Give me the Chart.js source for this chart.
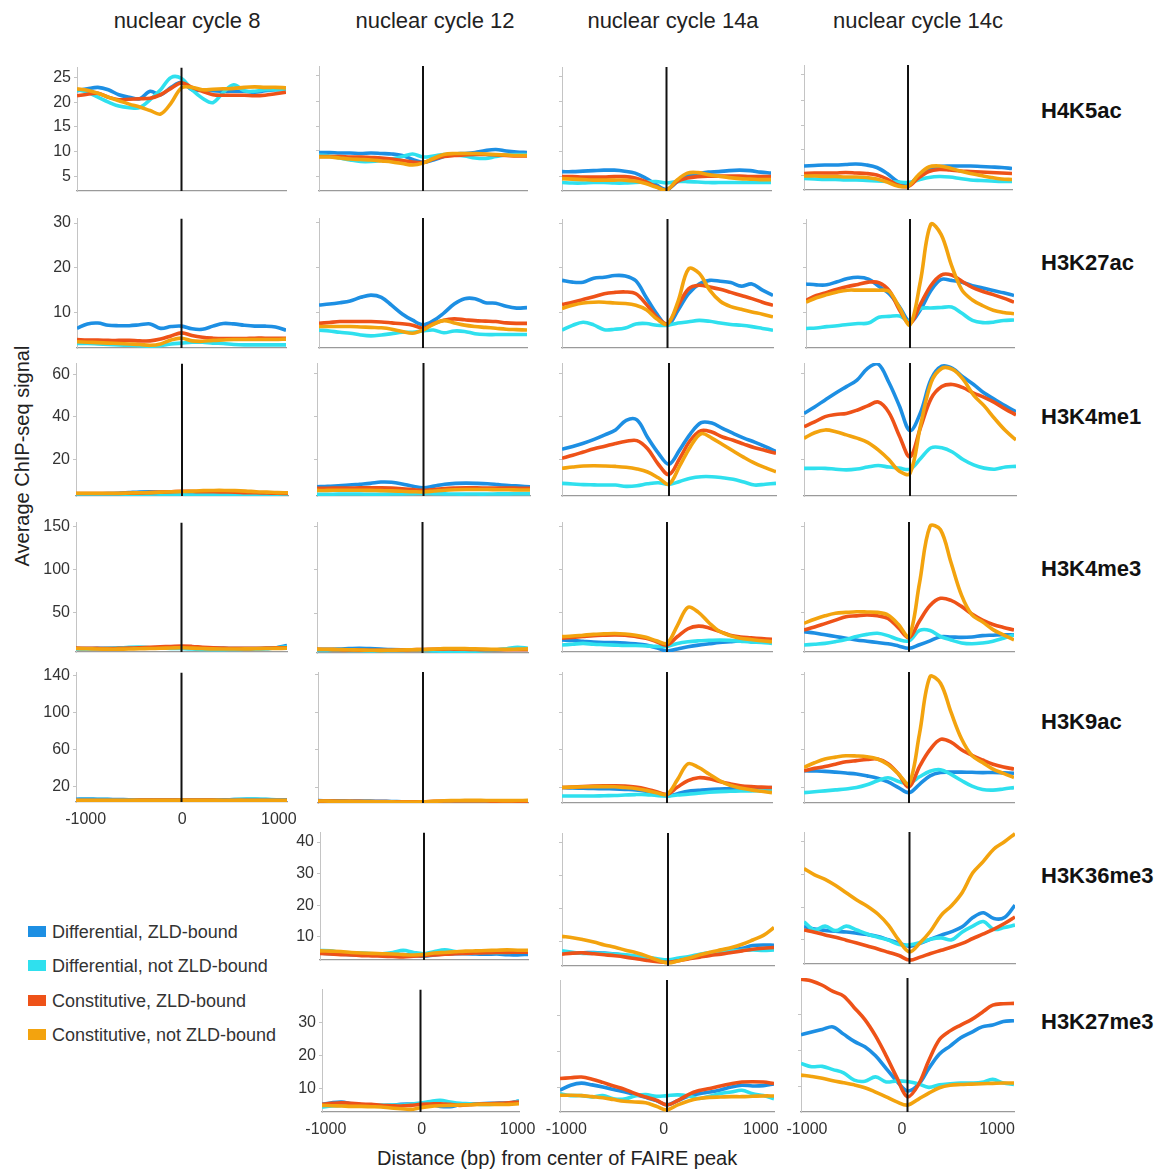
<!DOCTYPE html>
<html>
<head>
<meta charset="utf-8">
<title>ChIP-seq signal around FAIRE peaks</title>
<script src="https://cdn.jsdelivr.net/npm/chart.js@4.4.1/dist/chart.umd.min.js"></script>
<style>
  body { margin: 0; background: #fff; font-family: 'Liberation Sans', Arial, sans-serif; }
  #page { position: relative; width: 1162px; height: 1170px; overflow: hidden; background: #fff; }
  canvas.panel { position: absolute; }
  .stage { position: absolute; top: 9px; font-size: 22px; line-height: 24px; color: #222; transform: translateX(-50%); white-space: nowrap; }
  .mark { position: absolute; left: 1041px; font-size: 22px; line-height: 24px; font-weight: bold; color: #111; transform: translateY(-50%); white-space: nowrap; }
  .ytitle { position: absolute; left: 22px; top: 456px; font-size: 20px; color: #222; white-space: nowrap; transform: translate(-50%, -50%) rotate(-90deg); }
  .xtitle { position: absolute; left: 377px; top: 1146px; font-size: 20px; line-height: 24px; color: #222; white-space: nowrap; }
  .legend-item { position: absolute; left: 28px; font-size: 18px; line-height: 20px; color: #333; white-space: nowrap; transform: translateY(-50%); }
  .legend-item span { display: inline-block; width: 18px; height: 11px; margin-right: 6px; vertical-align: 1px; }
</style>
</head>
<body>
<div id="page"></div>
<script>
// ================= data =================
// x positions (bp from FAIRE peak center)
const xs = [-1000, -900, -800, -700, -600, -500, -400, -300, -200, -100, 0, 100, 200, 300, 400, 500, 600, 700, 800, 900, 1000];

const seriesNames = ['Differential, ZLD-bound', 'Differential, not ZLD-bound', 'Constitutive, ZLD-bound', 'Constitutive, not ZLD-bound'];
const stages = ['nuclear cycle 8', 'nuclear cycle 12', 'nuclear cycle 14a', 'nuclear cycle 14c'];
const marks = ['H4K5ac', 'H3K27ac', 'H3K4me1', 'H3K4me3', 'H3K9ac', 'H3K36me3', 'H3K27me3'];

// y axis limits and ticks, one entry per mark (row)
const yMinByRow = [2, 2, 3, 4, 3, 2.6, 3];
const yMaxByRow = [27, 31, 65, 155, 143, 43, 40];
const yTickValues = [[5, 10, 15, 20, 25], [10, 20, 30], [20, 40, 60], [50, 100, 150], [20, 60, 100, 140], [10, 20, 30, 40], [10, 20, 30]];
const xTickValues = [-1000, 0, 1000];
// the labelled distance axis is a little wider than the plotted window in the original
const xLabelMinByCol = [-1100, -1040, -1065, -1063];
const xLabelMaxByCol = [1085, 1015, 1135, 1179];

// each panel: [diff ZLD, diff not ZLD, const ZLD, const not ZLD]
const h4k5ac_nc8 = [
  [22.3, 22.7, 23.0, 22.5, 21.5, 21.0, 20.7, 22.2, 21.5, 23.0, 24.0, 22.5, 22.4, 22.3, 22.2, 22.2, 22.2, 22.0, 22.3, 22.5, 22.6],
  [22.5, 22.0, 21.0, 20.0, 19.2, 18.9, 18.9, 20.5, 22.5, 25.0, 24.8, 22.5, 20.8, 19.9, 22.0, 23.5, 22.3, 22.2, 22.5, 22.5, 22.6],
  [21.3, 21.6, 21.8, 21.0, 20.5, 20.6, 20.7, 20.8, 21.5, 22.8, 23.9, 23.0, 22.2, 21.5, 21.4, 21.4, 21.4, 21.3, 21.4, 21.7, 22.0],
  [22.7, 22.4, 21.8, 21.0, 20.3, 19.6, 19.0, 18.3, 17.6, 19.8, 22.9, 23.0, 22.5, 22.6, 22.7, 22.8, 23.0, 23.1, 23.0, 23.0, 22.9]
];
const h4k5ac_nc12 = [
  [9.7, 9.7, 9.6, 9.6, 9.5, 9.6, 9.5, 9.4, 9.1, 8.3, 7.7, 8.2, 8.9, 9.4, 9.5, 9.7, 10.1, 10.3, 10.0, 9.8, 9.7],
  [9.2, 9.0, 8.6, 8.2, 7.9, 7.9, 8.1, 8.4, 8.9, 9.4, 8.8, 9.0, 9.3, 9.2, 9.0, 8.6, 8.5, 8.9, 9.2, 9.3, 9.3],
  [8.9, 8.9, 8.9, 8.8, 8.8, 8.7, 8.6, 8.4, 8.1, 7.8, 7.7, 8.4, 8.9, 9.1, 9.2, 9.3, 9.3, 9.2, 9.1, 9.0, 9.0],
  [8.8, 8.8, 8.6, 8.4, 8.3, 8.2, 8.0, 7.8, 7.5, 7.2, 7.6, 8.5, 9.3, 9.5, 9.5, 9.5, 9.4, 9.3, 9.2, 9.1, 9.1]
];
const h4k5ac_nc14a = [
  [5.9, 5.9, 6.0, 6.1, 6.2, 6.2, 6.0, 5.6, 4.6, 3.3, 2.3, 3.8, 5.0, 5.5, 5.8, 5.9, 6.1, 6.2, 6.1, 5.8, 5.6],
  [3.7, 3.6, 3.6, 3.7, 3.7, 3.6, 3.6, 3.7, 3.8, 3.9, 3.6, 3.9, 3.9, 3.8, 3.7, 3.7, 3.7, 3.7, 3.7, 3.7, 3.7],
  [4.9, 4.9, 4.8, 4.8, 4.8, 4.9, 4.9, 4.6, 3.9, 2.9, 2.2, 3.9, 4.6, 4.9, 5.0, 5.0, 5.0, 5.0, 4.9, 4.9, 4.9],
  [4.5, 4.4, 4.3, 4.2, 4.2, 4.2, 4.2, 4.0, 3.5, 2.8, 2.2, 4.2, 5.6, 5.7, 5.3, 5.0, 4.7, 4.5, 4.4, 4.3, 4.3]
];
const h4k5ac_nc14c = [
  [6.8, 6.9, 7.0, 7.0, 7.1, 7.2, 7.0, 6.5, 5.3, 3.7, 3.0, 4.8, 6.2, 6.7, 6.8, 6.8, 6.8, 6.7, 6.6, 6.5, 6.3],
  [4.3, 4.2, 4.1, 4.1, 4.0, 4.0, 3.9, 3.8, 3.7, 3.6, 3.5, 4.0, 4.5, 4.7, 4.6, 4.3, 4.0, 3.9, 3.8, 3.7, 3.7],
  [5.3, 5.4, 5.4, 5.4, 5.5, 5.4, 5.3, 5.0, 4.2, 3.0, 2.7, 4.4, 5.7, 6.1, 6.0, 5.8, 5.7, 5.6, 5.5, 5.4, 5.3],
  [4.8, 4.8, 4.7, 4.7, 4.6, 4.6, 4.5, 4.2, 3.6, 2.8, 2.8, 5.0, 6.6, 6.8, 6.4, 5.8, 5.3, 4.9, 4.5, 4.2, 4.1]
];
const h3k27ac_nc8 = [
  [6.4, 7.4, 7.6, 7.1, 7.0, 7.0, 7.2, 7.4, 6.4, 6.8, 6.9, 6.3, 6.2, 6.9, 7.5, 7.4, 7.1, 6.9, 6.9, 6.7, 6.0],
  [3.0, 3.0, 2.9, 2.8, 2.7, 2.6, 2.5, 2.4, 2.5, 2.9, 3.1, 3.3, 3.3, 3.1, 3.0, 2.8, 2.7, 2.7, 2.7, 2.7, 2.7],
  [3.9, 3.8, 3.8, 3.7, 3.7, 3.7, 3.6, 3.6, 4.0, 4.7, 5.4, 4.8, 4.4, 4.2, 4.1, 4.1, 4.1, 4.2, 4.2, 4.2, 4.2],
  [3.4, 3.3, 3.2, 3.1, 3.0, 2.9, 2.8, 2.6, 2.9, 3.8, 4.2, 3.6, 3.5, 3.7, 3.8, 3.9, 3.9, 3.9, 3.9, 3.9, 4.0]
];
const h3k27ac_nc12 = [
  [11.6, 11.8, 12.1, 12.5, 13.3, 13.8, 13.3, 11.5, 9.6, 8.2, 7.2, 8.1, 9.8, 11.8, 13.0, 13.0, 12.1, 12.0, 11.3, 10.9, 11.0],
  [6.0, 5.8, 5.5, 5.3, 4.9, 4.7, 4.9, 5.2, 5.5, 5.5, 5.8, 6.0, 5.4, 5.8, 5.7, 5.2, 5.0, 5.0, 5.0, 5.0, 5.0],
  [7.5, 7.7, 7.9, 7.9, 7.9, 7.9, 7.8, 7.6, 7.4, 7.1, 6.4, 7.4, 8.2, 8.5, 8.3, 8.1, 8.0, 7.9, 7.6, 7.5, 7.5],
  [6.8, 6.8, 6.8, 6.8, 6.7, 6.6, 6.5, 6.2, 5.7, 5.3, 6.0, 7.3, 8.1, 7.6, 7.1, 6.8, 6.6, 6.4, 6.2, 6.1, 6.0]
];
const h3k27ac_nc14a = [
  [17.2, 16.8, 16.8, 17.7, 17.9, 18.3, 18.2, 17.1, 13.3, 9.6, 7.1, 10.5, 14.2, 16.4, 17.2, 17.0, 16.7, 15.9, 16.4, 15.0, 13.8],
  [6.0, 7.1, 7.8, 7.2, 6.1, 6.2, 6.5, 7.4, 7.5, 7.1, 7.1, 7.6, 7.9, 8.2, 8.0, 7.6, 7.3, 7.1, 6.8, 6.4, 6.0],
  [11.8, 12.3, 12.9, 13.5, 14.2, 14.5, 14.6, 14.2, 11.8, 8.9, 7.5, 11.5, 15.3, 16.1, 15.7, 15.2, 14.5, 13.8, 13.1, 12.3, 11.6],
  [10.9, 11.6, 12.1, 12.3, 12.3, 12.1, 12.0, 11.6, 10.6, 8.5, 7.4, 12.5, 19.8, 18.8, 15.0, 12.5, 11.3, 10.7, 10.1, 9.6, 9.0]
];
const h3k27ac_nc14c = [
  [16.4, 16.2, 16.2, 16.9, 17.6, 17.9, 17.5, 15.9, 14.2, 11.2, 7.9, 10.6, 14.9, 17.4, 17.2, 16.8, 16.0, 15.5, 14.9, 14.4, 13.8],
  [6.4, 6.5, 6.8, 7.0, 7.3, 7.5, 7.6, 8.9, 9.1, 9.2, 8.0, 10.8, 11.0, 11.1, 11.2, 9.8, 8.2, 7.7, 7.8, 8.2, 8.3],
  [12.7, 13.8, 14.5, 15.2, 15.8, 16.3, 16.8, 16.7, 14.9, 10.5, 7.5, 11.8, 16.0, 18.4, 18.4, 17.0, 15.6, 14.7, 14.0, 13.2, 12.3],
  [12.3, 13.3, 14.0, 14.6, 15.0, 15.0, 15.0, 15.0, 14.7, 11.0, 7.2, 17.0, 29.8, 27.5, 20.5, 15.0, 12.8, 11.5, 10.5, 10.0, 9.7]
];
const h3k4me1_nc8 = [
  [4.0, 4.0, 4.0, 4.1, 4.3, 4.6, 4.9, 5.0, 4.8, 4.6, 4.4, 4.1, 4.0, 4.0, 4.1, 4.2, 4.2, 4.1, 4.0, 4.0, 4.0],
  [3.6, 3.6, 3.6, 3.7, 3.7, 3.8, 3.8, 3.9, 3.9, 3.8, 3.7, 3.7, 3.6, 3.6, 3.6, 3.7, 3.7, 3.7, 3.7, 3.6, 3.6],
  [4.2, 4.2, 4.2, 4.2, 4.2, 4.3, 4.4, 4.6, 4.8, 5.0, 5.2, 5.1, 5.0, 5.0, 4.9, 4.8, 4.6, 4.5, 4.4, 4.3, 4.2],
  [4.3, 4.3, 4.3, 4.3, 4.3, 4.4, 4.5, 4.6, 4.8, 5.0, 5.1, 5.3, 5.5, 5.6, 5.6, 5.5, 5.3, 5.0, 4.8, 4.6, 4.5]
];
const h3k4me1_nc12 = [
  [7.3, 7.5, 7.8, 8.1, 8.5, 8.9, 9.5, 9.4, 8.6, 7.5, 6.8, 7.6, 8.5, 8.9, 9.0, 8.9, 8.7, 8.3, 7.9, 7.6, 7.3],
  [3.8, 3.8, 3.9, 3.9, 3.9, 3.8, 3.8, 3.9, 4.0, 4.1, 4.2, 4.1, 4.0, 3.9, 3.9, 3.9, 3.9, 4.0, 4.0, 4.1, 4.1],
  [6.6, 6.6, 6.7, 6.7, 6.8, 6.8, 6.8, 6.7, 6.4, 6.0, 5.6, 6.0, 6.5, 6.7, 6.8, 6.8, 6.7, 6.7, 6.7, 6.6, 6.6],
  [5.6, 5.6, 5.7, 5.7, 5.7, 5.6, 5.5, 5.4, 5.2, 5.0, 4.9, 5.3, 5.7, 5.9, 6.0, 6.0, 6.0, 5.9, 5.9, 5.8, 5.8]
];
const h3k4me1_nc14a = [
  [24.8, 26.1, 27.6, 29.4, 31.5, 33.8, 38.3, 38.5, 30.3, 23.0, 17.8, 24.5, 32.0, 37.2, 37.0, 34.5, 32.2, 30.0, 28.1, 26.0, 23.7],
  [8.9, 8.6, 8.3, 8.2, 8.1, 8.1, 7.5, 7.8, 8.7, 9.2, 8.4, 9.8, 11.3, 12.0, 12.0, 11.5, 10.8, 9.5, 8.1, 8.5, 8.9],
  [20.6, 22.0, 23.5, 25.0, 26.2, 27.5, 28.5, 28.8, 25.0, 17.8, 13.0, 20.5, 29.0, 33.5, 32.8, 30.5, 29.0, 27.2, 25.5, 24.2, 22.9],
  [15.9, 16.5, 17.0, 17.1, 17.0, 16.8, 16.4, 15.6, 14.2, 11.5, 8.5, 17.0, 26.0, 32.0, 30.0, 27.0, 24.0, 21.0, 18.3, 16.2, 14.3]
];
const h3k4me1_nc14c = [
  [41.5, 44.5, 47.8, 51.0, 54.0, 57.0, 62.5, 64.5, 56.0, 45.0, 33.5, 42.0, 57.5, 63.5, 62.5, 58.5, 55.0, 51.0, 48.0, 45.0, 42.3],
  [15.9, 15.9, 15.9, 15.5, 15.2, 15.6, 16.5, 17.2, 16.5, 16.0, 15.5, 20.5, 25.5, 25.5, 23.5, 20.0, 17.5, 16.0, 15.5, 16.5, 16.8],
  [35.3, 37.5, 40.0, 41.0, 41.5, 43.0, 45.0, 46.8, 42.0, 31.0, 21.3, 35.0, 48.5, 54.0, 55.0, 53.5, 51.0, 49.0, 46.5, 43.5, 40.8],
  [29.9, 32.5, 33.8, 33.0, 31.5, 30.0, 28.0, 24.5, 20.0, 14.5, 13.5, 36.0, 56.0, 62.5, 62.0, 57.5, 50.0, 45.0, 39.0, 33.5, 29.1]
];
const h3k4me3_nc8 = [
  [8.0, 8.0, 8.2, 8.3, 8.5, 8.6, 8.8, 9.0, 9.0, 9.2, 9.5, 9.0, 8.5, 8.3, 8.2, 8.0, 8.0, 8.0, 8.2, 9.0, 11.5],
  [7.5, 7.6, 7.8, 8.0, 8.5, 9.5, 9.8, 9.0, 8.5, 8.2, 8.0, 7.5, 7.0, 6.8, 6.8, 7.0, 7.2, 7.5, 7.8, 9.0, 10.0],
  [8.5, 8.4, 8.2, 8.0, 8.2, 8.5, 9.0, 9.5, 10.0, 10.5, 11.0, 10.5, 9.5, 8.8, 8.5, 8.3, 8.2, 8.3, 8.5, 8.8, 9.0],
  [8.0, 7.8, 7.5, 7.3, 7.3, 7.5, 7.8, 8.0, 8.3, 8.7, 9.0, 8.5, 8.0, 7.6, 7.5, 7.5, 7.6, 7.8, 8.0, 8.2, 8.3]
];
const h3k4me3_nc12 = [
  [8.0, 8.3, 8.5, 9.0, 9.5, 9.0, 8.5, 8.0, 7.8, 7.8, 7.5, 7.0, 6.8, 6.5, 6.8, 7.2, 7.5, 7.8, 8.0, 8.0, 8.2],
  [7.0, 7.0, 7.2, 7.0, 6.8, 6.5, 6.5, 6.8, 7.0, 7.5, 7.2, 6.5, 5.8, 5.5, 5.8, 6.2, 6.8, 7.5, 9.0, 10.5, 9.5],
  [8.2, 8.0, 7.8, 7.5, 7.3, 7.2, 7.0, 7.2, 7.5, 7.8, 8.0, 8.3, 8.5, 8.5, 8.3, 8.0, 7.8, 7.8, 7.8, 7.8, 7.8],
  [8.5, 8.3, 8.0, 7.8, 7.5, 7.2, 7.0, 7.2, 7.5, 7.8, 8.0, 8.5, 9.0, 9.2, 9.0, 8.8, 8.5, 8.3, 8.2, 8.5, 8.8]
];
const h3k4me3_nc14a = [
  [18.0, 17.5, 16.5, 15.5, 15.0, 15.0, 14.5, 13.5, 12.0, 9.0, 5.2, 7.5, 10.0, 12.0, 13.5, 15.0, 16.0, 17.0, 17.5, 18.0, 18.0],
  [12.1, 13.0, 14.0, 13.0, 12.5, 12.0, 11.5, 11.5, 11.0, 10.5, 10.5, 14.0, 16.0, 17.0, 17.5, 18.0, 17.5, 16.5, 15.5, 15.0, 14.0],
  [19.9, 21.0, 22.0, 23.0, 23.5, 23.8, 23.5, 22.0, 20.0, 16.0, 12.1, 22.0, 31.0, 34.0, 32.0, 28.0, 23.5, 21.5, 20.5, 19.5, 18.7],
  [21.8, 22.5, 23.5, 24.5, 25.0, 25.5, 25.0, 23.5, 21.0, 17.0, 14.1, 35.0, 56.0, 50.0, 38.0, 28.0, 23.0, 20.0, 18.5, 17.0, 16.0]
];
const h3k4me3_nc14c = [
  [27.6, 26.0, 24.0, 22.0, 20.0, 18.0, 16.5, 15.0, 13.5, 11.0, 8.3, 12.5, 17.0, 21.8, 21.5, 21.0, 21.5, 23.0, 23.5, 24.0, 24.0],
  [12.1, 13.0, 14.0, 16.0, 18.5, 22.0, 24.5, 25.7, 23.0, 18.5, 17.0, 29.0, 29.0, 22.0, 18.0, 14.5, 13.5, 14.5, 16.5, 20.0, 23.8],
  [29.6, 33.0, 37.0, 41.0, 45.0, 46.0, 47.0, 46.0, 43.0, 32.0, 20.5, 40.0, 58.0, 66.3, 64.0, 57.0, 48.0, 41.0, 36.0, 32.5, 29.6],
  [37.3, 42.0, 46.0, 49.0, 50.0, 50.8, 50.5, 50.0, 47.0, 36.0, 22.0, 84.0, 150.0, 146.0, 108.0, 70.0, 47.0, 39.0, 30.0, 24.0, 18.0]
];
const h3k9ac_nc8 = [
  [6.0, 6.2, 6.0, 5.8, 5.6, 5.5, 5.4, 5.3, 5.2, 5.2, 5.3, 5.3, 5.2, 5.2, 5.4, 5.6, 5.8, 5.8, 5.6, 5.4, 5.4],
  [5.5, 5.6, 5.7, 5.6, 5.4, 5.3, 5.2, 5.2, 5.1, 5.0, 5.0, 5.0, 5.0, 5.1, 5.2, 5.6, 6.0, 6.2, 5.8, 5.4, 5.2],
  [4.8, 4.8, 4.8, 4.8, 4.9, 4.9, 5.0, 5.0, 5.1, 5.1, 5.2, 5.1, 5.0, 5.0, 4.9, 4.9, 4.9, 4.8, 4.8, 4.8, 4.8],
  [4.6, 4.6, 4.6, 4.6, 4.7, 4.7, 4.8, 4.8, 4.9, 4.9, 5.0, 4.9, 4.8, 4.8, 4.7, 4.7, 4.7, 4.6, 4.6, 4.6, 4.6]
];
const h3k9ac_nc12 = [
  [5.5, 5.4, 5.3, 5.2, 5.0, 5.0, 4.8, 4.6, 4.4, 4.2, 4.0, 3.8, 3.8, 3.9, 4.0, 4.2, 4.4, 4.6, 4.8, 5.0, 5.2],
  [4.0, 4.0, 3.8, 3.6, 3.5, 3.4, 3.4, 3.4, 3.5, 3.6, 3.6, 3.2, 2.9, 2.9, 3.0, 3.2, 3.4, 3.6, 4.0, 4.5, 5.0],
  [5.0, 5.0, 4.9, 4.8, 4.7, 4.6, 4.5, 4.4, 4.3, 4.3, 4.4, 4.8, 5.2, 5.3, 5.3, 5.2, 5.1, 5.0, 5.0, 5.0, 5.0],
  [5.2, 5.0, 4.8, 4.7, 4.6, 4.5, 4.3, 4.2, 4.1, 4.1, 4.2, 4.8, 5.4, 5.6, 5.8, 5.8, 5.7, 5.6, 5.5, 5.6, 5.8]
];
const h3k9ac_nc14a = [
  [19.5, 19.0, 18.8, 18.5, 18.3, 18.0, 17.5, 17.0, 15.5, 13.0, 10.5, 13.0, 15.5, 16.5, 17.5, 18.0, 18.3, 18.5, 18.8, 19.0, 19.5],
  [10.5, 10.5, 10.5, 10.5, 10.8, 11.0, 11.5, 12.0, 12.0, 11.0, 10.5, 11.5, 12.3, 13.5, 14.5, 15.2, 15.5, 15.8, 16.0, 16.0, 16.0],
  [19.5, 20.0, 20.5, 21.0, 21.3, 21.3, 21.0, 20.0, 18.0, 15.0, 12.3, 20.0, 27.0, 30.0, 29.0, 26.0, 23.5, 21.5, 20.5, 20.0, 19.5],
  [19.5, 20.0, 20.3, 20.5, 20.5, 20.3, 19.5, 18.5, 16.5, 14.0, 12.3, 28.0, 45.0, 41.0, 34.0, 27.0, 22.0, 19.0, 17.0, 15.5, 14.1]
];
const h3k9ac_nc14c = [
  [37.5, 37.2, 36.8, 36.0, 35.0, 34.0, 32.0, 29.5, 25.5, 19.5, 14.1, 23.0, 32.0, 35.6, 36.0, 36.0, 35.8, 35.5, 35.6, 35.2, 34.8],
  [14.1, 15.0, 16.0, 17.0, 18.0, 19.5, 22.5, 26.7, 30.0, 26.0, 24.0, 31.0, 37.0, 38.5, 33.5, 27.0, 21.0, 17.5, 16.8, 18.0, 19.5],
  [37.5, 40.0, 42.0, 44.5, 47.0, 48.3, 49.5, 50.0, 45.0, 34.0, 20.0, 42.0, 60.0, 71.0, 68.0, 60.0, 54.0, 49.0, 44.5, 41.5, 39.3],
  [41.1, 46.0, 50.0, 52.0, 53.5, 53.3, 52.5, 50.0, 44.0, 34.0, 23.5, 77.0, 138.0, 131.0, 100.0, 71.6, 53.6, 46.4, 39.3, 34.6, 30.3]
];
const h3k36me3_nc12 = [
  [4.8, 4.6, 4.4, 4.3, 4.2, 4.2, 4.1, 4.2, 4.3, 4.1, 3.8, 4.2, 4.5, 4.6, 4.6, 4.5, 4.4, 4.5, 4.3, 4.2, 4.4],
  [5.6, 5.5, 5.0, 4.8, 4.8, 4.6, 4.6, 5.0, 5.7, 5.0, 4.6, 5.3, 5.8, 5.3, 4.9, 4.8, 5.0, 4.9, 5.0, 5.2, 5.2],
  [4.7, 4.5, 4.3, 4.2, 4.0, 3.9, 3.8, 3.7, 3.6, 3.8, 4.0, 4.2, 4.4, 4.6, 4.7, 4.8, 4.9, 5.0, 5.0, 5.1, 5.1],
  [5.5, 5.4, 5.3, 5.0, 4.8, 4.7, 4.6, 4.5, 4.3, 4.2, 4.4, 4.8, 5.0, 5.2, 5.4, 5.5, 5.6, 5.7, 5.8, 5.7, 5.7]
];
const h3k36me3_nc14a = [
  [6.7, 6.6, 6.6, 6.7, 6.5, 6.2, 5.8, 5.4, 5.0, 4.5, 4.2, 4.6, 5.0, 5.5, 6.0, 6.5, 7.3, 8.0, 8.8, 9.0, 8.9],
  [7.2, 6.8, 6.4, 6.5, 6.4, 6.2, 6.0, 5.6, 5.2, 4.8, 4.5, 5.0, 5.5, 6.2, 6.7, 7.0, 7.2, 7.4, 7.5, 7.3, 7.5],
  [6.2, 6.5, 6.6, 6.3, 6.0, 5.7, 5.3, 4.8, 4.3, 3.9, 3.7, 4.2, 4.8, 5.3, 5.8, 6.2, 6.7, 7.2, 7.7, 8.0, 8.2],
  [11.6, 11.2, 10.6, 9.9, 9.0, 8.3, 7.4, 6.6, 5.6, 4.4, 3.5, 4.2, 5.0, 6.0, 6.8, 7.5, 8.2, 9.2, 10.5, 11.9, 14.3]
];
const h3k36me3_nc14c = [
  [14.0, 13.3, 12.9, 12.6, 12.4, 12.0, 11.6, 11.0, 10.0, 9.0, 8.0, 8.9, 10.2, 11.4, 12.5, 14.0, 16.8, 18.3, 16.5, 16.8, 20.6],
  [15.5, 13.0, 14.2, 12.8, 14.2, 13.0, 11.8, 10.8, 9.9, 8.6, 8.5, 9.2, 10.2, 10.6, 10.0, 12.4, 14.2, 15.6, 13.2, 13.8, 14.5],
  [13.0, 12.3, 11.5, 10.8, 9.9, 9.0, 8.1, 7.2, 6.2, 5.2, 3.8, 4.7, 5.8, 6.8, 7.8, 8.9, 10.4, 11.8, 13.3, 15.0, 17.0],
  [31.8, 29.9, 28.5, 26.6, 24.4, 22.2, 20.3, 17.9, 14.5, 9.8, 6.3, 9.1, 12.7, 17.5, 20.5, 24.5, 30.5, 34.0, 37.8, 40.0, 42.5]
];
const h3k27me3_nc12 = [
  [5.3, 5.8, 6.0, 5.5, 5.2, 5.1, 4.8, 5.0, 5.3, 5.4, 5.5, 5.3, 4.7, 4.6, 5.2, 5.4, 5.5, 5.6, 5.7, 5.8, 6.3],
  [4.5, 4.8, 5.0, 5.1, 5.0, 5.0, 5.1, 5.1, 5.1, 5.4, 5.7, 6.2, 6.5, 6.0, 5.6, 5.5, 5.3, 5.3, 5.4, 5.6, 6.3],
  [5.3, 5.6, 5.8, 5.6, 5.4, 5.3, 5.0, 4.9, 4.8, 5.0, 5.3, 5.4, 5.5, 5.3, 5.0, 5.2, 5.4, 5.5, 5.6, 5.8, 6.0],
  [5.0, 4.9, 4.8, 4.7, 4.7, 4.6, 4.5, 4.2, 4.0, 3.8, 4.3, 4.7, 4.9, 5.0, 5.1, 5.2, 5.3, 5.3, 5.3, 5.3, 5.5]
];
const h3k27me3_nc14a = [
  [9.1, 10.5, 11.1, 10.6, 10.0, 9.3, 8.7, 7.9, 7.1, 6.2, 5.0, 6.2, 7.4, 8.1, 8.6, 9.2, 10.0, 10.5, 10.3, 10.4, 10.9],
  [8.1, 7.6, 7.6, 7.2, 7.6, 6.7, 6.6, 7.5, 7.9, 7.4, 7.6, 7.8, 7.5, 6.8, 7.4, 8.2, 8.6, 9.1, 8.1, 7.6, 6.7],
  [12.4, 12.6, 12.8, 12.2, 11.3, 10.3, 9.4, 8.2, 7.2, 6.3, 5.0, 6.2, 7.9, 9.0, 9.6, 10.3, 10.9, 11.4, 11.5, 11.4, 11.0],
  [7.7, 7.7, 7.6, 7.3, 7.0, 6.5, 6.0, 5.8, 5.6, 4.6, 3.6, 5.0, 6.1, 6.8, 7.1, 7.2, 7.3, 7.3, 7.4, 7.5, 7.5]
];
const h3k27me3_nc14c = [
  [24.3, 25.1, 25.8, 26.5, 24.5, 22.5, 21.0, 18.5, 15.0, 11.5, 8.8, 10.5, 15.0, 19.0, 21.2, 23.5, 25.0, 26.5, 27.0, 28.0, 28.2],
  [16.4, 15.5, 15.6, 14.7, 13.8, 11.8, 11.5, 12.7, 11.3, 11.6, 11.4, 10.8, 9.8, 10.5, 10.8, 11.0, 11.0, 11.2, 12.0, 11.0, 10.6],
  [39.7, 39.2, 38.0, 36.3, 35.0, 31.8, 28.5, 24.0, 18.5, 12.5, 7.2, 10.4, 17.2, 23.0, 25.4, 27.0, 28.5, 30.5, 32.5, 32.9, 33.0],
  [13.2, 12.8, 12.3, 11.6, 11.1, 10.5, 9.7, 8.5, 7.2, 5.8, 4.9, 6.5, 8.2, 9.7, 10.4, 10.6, 10.7, 10.8, 10.9, 11.0, 11.0]
];

// ================= layout =================
const colors = ['#1d8fe3', '#2fe0ee', '#ee5218', '#f3a30e'];
const legendY = [932, 966, 1001, 1035];
const stageX = [187, 435, 673, 918];
const markY = [111, 263, 417, 569, 722, 876, 1022];

// row, col, data, plot box [left, top, right, bottom]
const panels = [
  [0, 0, h4k5ac_nc8, [77, 67, 286, 191]],
  [0, 1, h4k5ac_nc12, [319, 66, 527, 191]],
  [0, 2, h4k5ac_nc14a, [562, 67, 771, 191]],
  [0, 3, h4k5ac_nc14c, [804, 65, 1012, 190]],
  [1, 0, h3k27ac_nc8, [77, 218, 286, 348]],
  [1, 1, h3k27ac_nc12, [319, 218, 527, 348]],
  [1, 2, h3k27ac_nc14a, [562, 219, 773, 348]],
  [1, 3, h3k27ac_nc14c, [806, 219, 1014, 348]],
  [2, 0, h3k4me1_nc8, [76, 363, 288, 496]],
  [2, 1, h3k4me1_nc12, [317, 363, 530, 496]],
  [2, 2, h3k4me1_nc14a, [562, 363, 776, 496]],
  [2, 3, h3k4me1_nc14c, [804, 363, 1016, 496]],
  [3, 0, h3k4me3_nc8, [76, 522, 287, 652]],
  [3, 1, h3k4me3_nc12, [317, 522, 528, 653]],
  [3, 2, h3k4me3_nc14a, [562, 522, 772, 652]],
  [3, 3, h3k4me3_nc14c, [804, 522, 1014, 652]],
  [4, 0, h3k9ac_nc8, [76, 672, 287, 802]],
  [4, 1, h3k9ac_nc12, [318, 672, 528, 803]],
  [4, 2, h3k9ac_nc14a, [562, 672, 772, 803]],
  [4, 3, h3k9ac_nc14c, [804, 672, 1014, 803]],
  [5, 1, h3k36me3_nc12, [320, 832, 528, 960]],
  [5, 2, h3k36me3_nc14a, [562, 833, 774, 966]],
  [5, 3, h3k36me3_nc14c, [804, 832, 1015, 964]],
  [6, 1, h3k27me3_nc12, [322, 989, 519, 1112]],
  [6, 2, h3k27me3_nc14a, [560, 980, 774, 1112]],
  [6, 3, h3k27me3_nc14c, [801, 978, 1014, 1112]]
];

const PAD_L = 54, PAD_T = 12, PAD_R = 28, PAD_B = 30;
const FONT = "'Liberation Sans', Arial, sans-serif";
const page = document.getElementById('page');

// titles and labels
stages.forEach(function (s, i) {
  const d = document.createElement('div');
  d.className = 'stage';
  d.style.left = stageX[i] + 'px';
  d.textContent = s;
  page.appendChild(d);
});
marks.forEach(function (m, i) {
  const d = document.createElement('div');
  d.className = 'mark';
  d.style.top = markY[i] + 'px';
  d.textContent = m;
  page.appendChild(d);
});
const yt = document.createElement('div');
yt.className = 'ytitle';
yt.textContent = 'Average ChIP-seq signal';
page.appendChild(yt);
const xt = document.createElement('div');
xt.className = 'xtitle';
xt.textContent = 'Distance (bp) from center of FAIRE peak';
page.appendChild(xt);

// legend
seriesNames.forEach(function (name, i) {
  const d = document.createElement('div');
  d.className = 'legend-item';
  d.style.top = legendY[i] + 'px';
  const sw = document.createElement('span');
  sw.style.background = colors[i];
  d.appendChild(sw);
  d.appendChild(document.createTextNode(name));
  page.appendChild(d);
});

// ================= panels =================
panels.forEach(function (p) {
  const row = p[0], col = p[1], series = p[2], box = p[3];
  const yMin = yMinByRow[row], yMax = yMaxByRow[row];
  const showY = (col === 0 && row <= 4) || (col === 1 && row >= 5);
  const showX = (col === 0 && row === 4) || row === 6;

  const canvas = document.createElement('canvas');
  canvas.className = 'panel';
  canvas.width = box[2] - box[0] + PAD_L + PAD_R;
  canvas.height = box[3] - box[1] + PAD_T + PAD_B;
  canvas.style.left = (box[0] - PAD_L) + 'px';
  canvas.style.top = (box[1] - PAD_T) + 'px';
  page.appendChild(canvas);

  const datasets = series.map(function (vals, i) {
    return {
      label: seriesNames[i],
      data: xs.map(function (x, k) { return { x: x, y: vals[k] }; }),
      borderColor: colors[i],
      borderWidth: 3.6,
      pointRadius: 0,
      tension: 0.35,
      fill: false,
      order: 4 - i
    };
  });
  // vertical line at the peak center
  datasets.push({
    label: 'center',
    data: [{ x: 0, y: yMin }, { x: 0, y: yMax }],
    borderColor: '#111',
    borderWidth: 2,
    pointRadius: 0,
    order: 0
  });

  new Chart(canvas, {
    type: 'line',
    data: { datasets: datasets },
    options: {
      responsive: false,
      animation: false,
      events: [],
      devicePixelRatio: 1,
      layout: { padding: { top: PAD_T, right: PAD_R, left: 0, bottom: 0 } },
      plugins: { legend: { display: false }, tooltip: { enabled: false } },
      scales: {
        // plotted window, draws the bottom axis line only
        x: {
          type: 'linear',
          position: 'bottom',
          weight: 0,
          min: -1000,
          max: 1000,
          afterFit: function (scale) { scale.height = 0; },
          grid: { display: true, drawOnChartArea: false, drawTicks: false },
          border: { display: true, color: '#9a9a9a', width: 1.2 },
          ticks: { display: false }
        },
        // labelled distance axis
        xLabels: {
          type: 'linear',
          axis: 'x',
          position: 'bottom',
          weight: 1,
          min: xLabelMinByCol[col],
          max: xLabelMaxByCol[col],
          afterBuildTicks: function (scale) {
            scale.ticks = xTickValues.map(function (v) { return { value: v }; });
          },
          afterFit: function (scale) { scale.height = PAD_B; },
          grid: { display: false },
          border: { display: false },
          ticks: {
            display: showX,
            padding: 0,
            maxRotation: 0,
            color: '#333',
            font: { family: FONT, size: 16 },
            callback: function (v) { return String(v); }
          }
        },
        y: {
          type: 'linear',
          min: yMin,
          max: yMax,
          afterBuildTicks: function (scale) {
            scale.ticks = yTickValues[row].map(function (v) { return { value: v }; });
          },
          afterFit: function (scale) { scale.width = PAD_L; },
          grid: { display: true, drawOnChartArea: false, drawTicks: true, tickLength: 3, color: '#c4c4c4' },
          border: { display: true, color: '#c4c4c4', width: 1 },
          ticks: {
            display: showY,
            padding: 3,
            color: '#333',
            font: { family: FONT, size: 16 },
            callback: function (v) { return String(v); }
          }
        }
      }
    }
  });
});
</script>
</body>
</html>
